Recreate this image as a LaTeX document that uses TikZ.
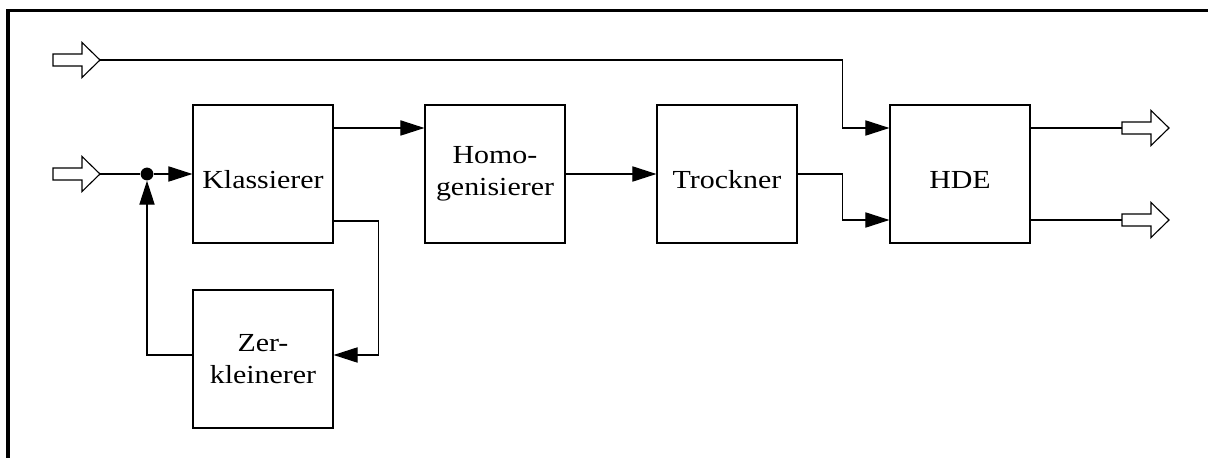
\documentclass[tikz,border=0pt]{standalone}
\usepackage{fontspec}
\setmainfont[FakeStretch=1.15]{Liberation Serif}
\usetikzlibrary{arrows.meta}

\begin{document}
\begin{tikzpicture}[x=0.025cm, y=-0.025cm,
  block/.style={draw, line width=0.8pt, minimum width=3.5cm, minimum height=3.45cm,
    align=center, inner sep=0pt, font=\fontsize{18.5pt}{23pt}\selectfont},
  oneline/.style={text height=0.74cm, text depth=0pt},
  wire/.style={line width=0.8pt},
  flow/.style={wire, -{Triangle[length=0.6cm, width=0.38cm]}},
  dot/.style={circle, fill, inner sep=0pt, minimum size=0.32cm}]
  \newcommand{\HollowArrow}[1]{%
    \draw[wire, line join=miter] (#1) ++(0,-6) -- ++(29,0) -- ++(0,-11.5) -- ++(18,17.5) -- ++(-18,17.5) -- ++(0,-11.5) -- ++(-29,0) -- cycle;%
  }
  \useasboundingbox (0,0) rectangle (1208,458);
  \draw[line width=2.6pt, line join=miter] (8,458) -- (8,10.5) -- (1208,10.5);

  \node[block, oneline] (cls) at (263,174) {Klassierer};
  \node[block] (hom) at (495,174) {Homo-\\genisierer};
  \node[block, oneline] (dry) at (727,174) {Trockner};
  \node[block, oneline] (hde) at (960,174) {HDE};
  \node[block] (crush) at (263,359) {Zer-\\kleinerer};
  \node[dot] (mix) at (147,174) {};

  \coordinate (srcA) at (53,60);
  \coordinate (inA) at (100,60);
  \coordinate (srcB) at (53,174);
  \coordinate (inB) at (100,174);
  \coordinate (outA) at (1122,128);
  \coordinate (outB) at (1122,220);
  \coordinate (hdeA) at (hde.west |- outA);
  \coordinate (hdeB) at (hde.west |- outB);

  \HollowArrow{srcA};
  \HollowArrow{srcB};
  \HollowArrow{outA};
  \HollowArrow{outB};

  \draw[flow] (inA) -| ([xshift=-1.175cm]hdeA) -- (hdeA);
  \draw[wire] (inB) -- (mix);
  \draw[flow] (mix) -- (cls);
  \draw[flow] ([yshift=1.15cm]cls.east) -- ([yshift=1.15cm]hom.west);
  \draw[flow] (hom) -- (dry);
  \draw[flow] (dry.east) -| ([xshift=-1.175cm]hdeB) -- (hdeB);
  \draw[wire] (hdeA -| hde.east) -- (outA);
  \draw[wire] (hdeB -| hde.east) -- (outB);
  \draw[flow] ([yshift=-1.175cm]cls.east) -| ([xshift=1.125cm, yshift=0.1cm]crush.east) -- ([yshift=0.1cm]crush.east);
  \draw[flow] ([yshift=0.1cm]crush.west) -| (mix.south);
\end{tikzpicture}
\end{document}
